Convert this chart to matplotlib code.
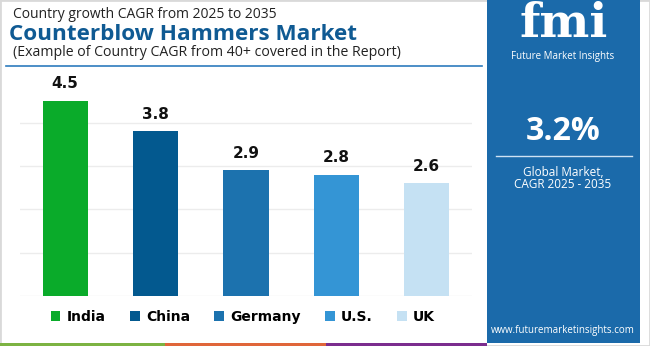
import matplotlib
matplotlib.use("Agg")
import matplotlib.pyplot as plt
from matplotlib.patches import Rectangle
from matplotlib.lines import Line2D

countries = ["India", "China", "Germany", "U.S.", "UK"]
cagr = [4.5, 3.8, 2.9, 2.8, 2.6]
colors = ["#0aab2a", "#03598f", "#1c72ae", "#3495d5", "#c5e1f3"]
title_top = "Country growth CAGR from 2025 to 2035"
title_main = "Counterblow Hammers Market"
title_sub = "(Example of Country CAGR from 40+ covered in the Report)"
global_cagr = "3.2%"

W, H = 650, 346
fig = plt.figure(figsize=(W / 100, H / 100), dpi=100)
fig.patch.set_facecolor("white")
FONT = "Open Sans"

def px(x, y):
    return x / W, 1 - y / H

# frame
fig.patches.append(Rectangle((0, 0), 1, 1, transform=fig.transFigure, fill=False,
                             edgecolor="#d9d9d9", linewidth=2))
# right panel
x0, y0 = px(487, 343)
fig.patches.append(Rectangle((x0, y0), 153 / W, 343 / H, transform=fig.transFigure,
                             facecolor="#1b6aaa", edgecolor="none"))
# bottom strips
for xs, xe, c in [(0, 165, "#7cb342"), (165, 326, "#e0663a"), (326, 487, "#7b2d8e")]:
    a, b = px(xs, 346)
    fig.patches.append(Rectangle((a, b), (xe - xs) / W, 3 / H, transform=fig.transFigure,
                                 facecolor=c, edgecolor="none"))

# titles
fig.text(*px(13, 15), title_top, fontsize=10, family=FONT, color="#222222", va="center", ha="left")
fig.text(*px(9, 34), title_main, fontsize=16.2, family=FONT, fontweight="bold",
         color="#0f5a93", va="center", ha="left")
fig.text(*px(13, 53), title_sub, fontsize=10.2, family=FONT, color="#222222", va="center", ha="left")
fig.add_artist(Line2D([6 / W, 482 / W], [1 - 66 / H] * 2, transform=fig.transFigure,
                      color="#2d7bbd", linewidth=1.2))

# bar chart
ax = fig.add_axes([20 / W, (H - 296) / H, 452 / W, (296 - 79.5) / H])
xpos = range(len(countries))
bars = ax.bar(xpos, cagr, width=0.5, color=colors, zorder=3)
for rect, v in zip(bars, cagr):
    ax.annotate(f"{v}", (rect.get_x() + rect.get_width() / 2, v), xytext=(0, 7),
                textcoords="offset points", ha="center", va="bottom",
                fontsize=11, fontweight="bold", family="DejaVu Sans", color="#111111")
ax.set_xlim(-0.5, len(countries) - 0.5)
ax.set_ylim(0, 5)
ax.set_yticks([0, 1, 2, 3, 4])
ax.yaxis.grid(True, color="#ececec", linewidth=1, zorder=0)
ax.tick_params(left=False, bottom=False, labelleft=False, labelbottom=False)
for s in ax.spines.values():
    s.set_visible(False)

handles = [Rectangle((0, 0), 1, 1, facecolor=c, edgecolor="none") for c in colors]
leg = fig.legend(handles, countries, loc="center", bbox_to_anchor=(243 / W, 1 - 317 / H),
                 ncol=5, frameon=False, handlelength=0.7, handleheight=0.7, handletextpad=0.45,
                 columnspacing=1.75, prop={"family": "DejaVu Sans", "weight": "bold", "size": 10})

# right panel content
fig.text(*px(564, 24), "fmi", fontsize=34, family="DejaVu Serif", fontweight="bold",
         color="white", ha="center", va="center")
fig.text(*px(563, 57), "Future Market Insights", fontsize=7, family=FONT, color="white",
         ha="center", va="center")
fig.text(*px(563, 131), global_cagr, fontsize=23, family=FONT, fontweight="bold",
         color="white", ha="center", va="center")
fig.add_artist(Line2D([496 / W, 632 / W], [1 - 156 / H] * 2, transform=fig.transFigure,
                      color="#cfe2f3", linewidth=1))
fig.text(*px(563, 172), "Global Market,", fontsize=8.5, family=FONT, color="white",
         ha="center", va="center")
fig.text(*px(563, 185), "CAGR 2025 - 2035", fontsize=8.5, family=FONT, color="white",
         ha="center", va="center")
fig.text(*px(563, 331), "www.futuremarketinsights.com", fontsize=7, family=FONT, color="white",
         ha="center", va="center")

fig.savefig("out.png", dpi=100, facecolor="white")
